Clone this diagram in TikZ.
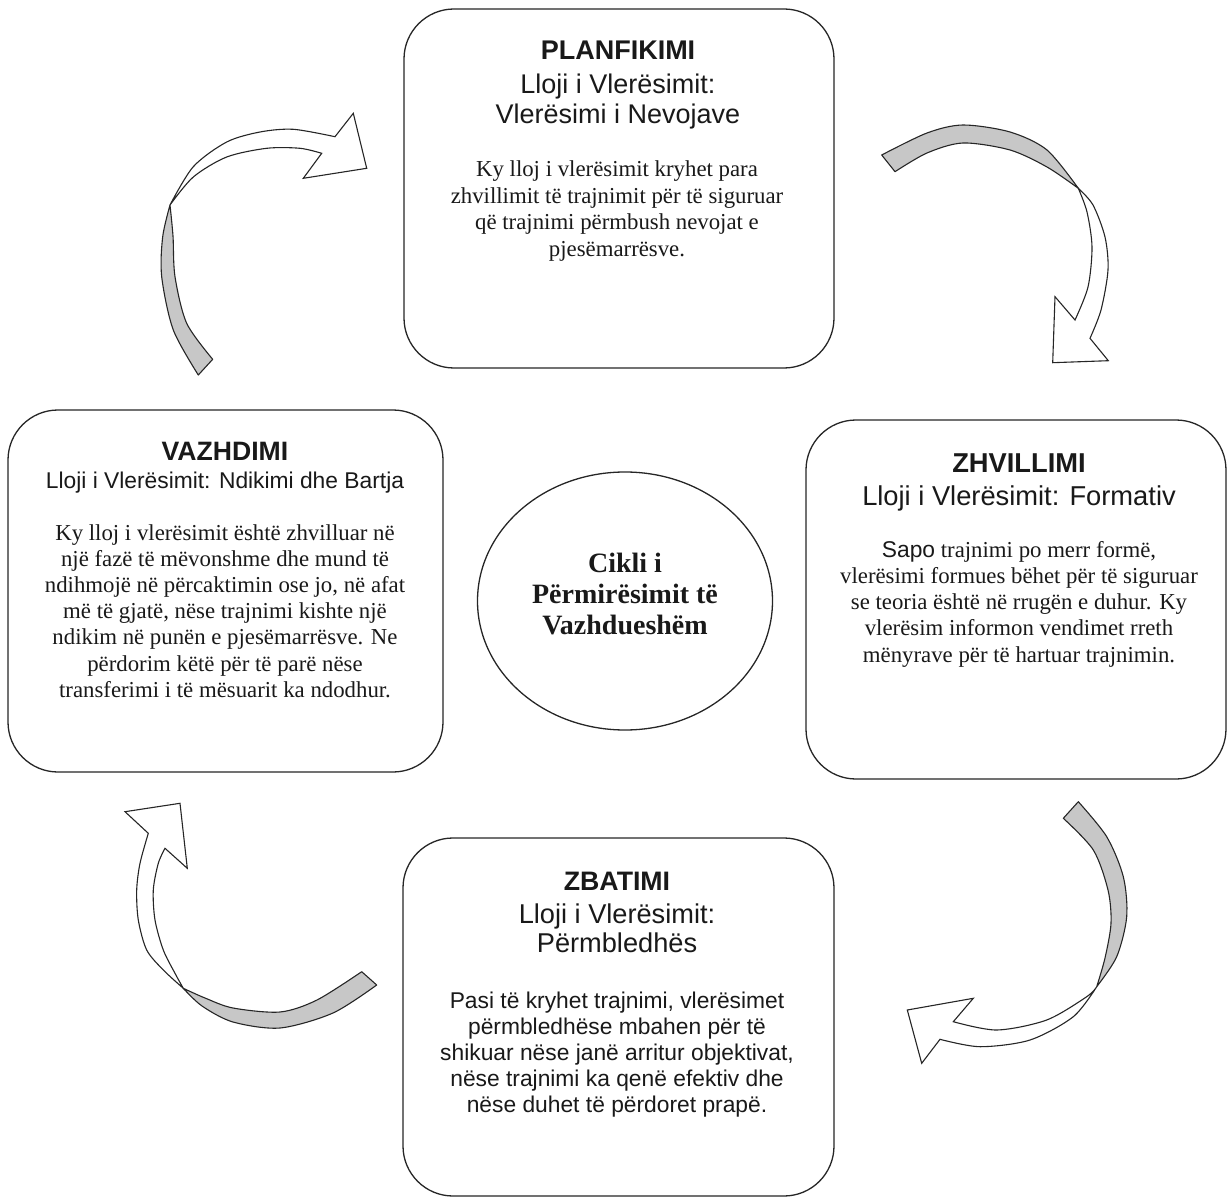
\documentclass[tikz,border=0pt]{standalone}
\usepackage{fontspec}
\setmainfont{Liberation Serif}
\newfontfamily\sansf{Liberation Sans}
\usetikzlibrary{shapes.geometric}
\newcommand\Lines[4]{#1\fontsize{#2}{#3}\selectfont\renewcommand\arraystretch{1}\begin{tabular}[t]{@{}c@{}}#4\end{tabular}}
\tikzset{
  stagebox/.style={draw=black!85, line width=1.3pt, rounded corners=50pt, fill=white, inner sep=0pt},
  txt/.style={anchor=base, inner sep=0pt, text=black!90},
  back/.style={fill=black!22, draw=black!85, line width=1.1pt, line join=round},
  front/.style={fill=white, draw=black!85, line width=1.1pt, line join=miter},
}
\begin{document}
\begin{tikzpicture}[x=1pt,y=-1pt]
\useasboundingbox (0,0) rectangle (1227,1198);

% ---------- boxes ----------
\node[stagebox, minimum width=430pt, minimum height=359pt] (plan) at (619,188.5) {};
\node[stagebox, minimum width=435pt, minimum height=362pt] (vazh) at (225.5,591) {};
\node[stagebox, minimum width=420pt, minimum height=359pt] (zhvi) at (1016,599.5) {};
\node[stagebox, minimum width=431pt, minimum height=358pt] (zbat) at (618.5,1017) {};
\node[draw=black!85, line width=1.3pt, ellipse, minimum width=295pt, minimum height=258pt, inner sep=0pt] (cikli) at (625,601) {};

% ---------- PLANFIKIMI ----------
\node[txt] (planT) at (618,60) {\sansf\bfseries\fontsize{27}{31}\selectfont PLANFIKIMI};
\node[txt] (planS) at (618,94) {\Lines{\sansf}{27}{30}{Lloji i Vlerësimit:\\ Vlerësimi i Nevojave}};
\node[txt] (planB) at (617,177) {\Lines{}{22.8}{26.5}{Ky lloj i vlerësimit kryhet para\\ zhvillimit të trajnimit për të siguruar\\ që trajnimi përmbush nevojat e\\ pjesëmarrësve.}};

% ---------- VAZHDIMI ----------
\node[txt] (vazhT) at (225,460) {\sansf\bfseries\fontsize{26.6}{31}\selectfont VAZHDIMI};
\node[txt] (vazhS) at (225,488) {\sansf\fontsize{22.8}{26}\selectfont Lloji i Vlerësimit: Ndikimi dhe Bartja};
\node[txt] (vazhB) at (225,540) {\Lines{}{22.8}{26.2}{Ky lloj i vlerësimit është zhvilluar në\\ një fazë të mëvonshme dhe mund të\\ ndihmojë në përcaktimin ose jo, në afat\\ më të gjatë, nëse trajnimi kishte një\\ ndikim në punën e pjesëmarrësve. Ne\\ përdorim këtë për të parë nëse\\ transferimi i të mësuarit ka ndodhur.}};

% ---------- ZHVILLIMI ----------
\node[txt] (zhviT) at (1019,472) {\sansf\bfseries\fontsize{27.3}{31}\selectfont ZHVILLIMI};
\node[txt] (zhviS) at (1019,505) {\sansf\fontsize{27.3}{31}\selectfont Lloji i Vlerësimit: Formativ};
\node[txt] (zhviB) at (1019,557) {\Lines{}{22.8}{26.3}{{\sansf Sapo} trajnimi po merr formë,\\ vlerësimi formues bëhet për të siguruar\\ se teoria është në rrugën e duhur. Ky\\ vlerësim informon vendimet rreth\\ mënyrave për të hartuar trajnimin.}};

% ---------- ZBATIMI ----------
\node[txt] (zbatT) at (617,890) {\sansf\bfseries\fontsize{26.7}{31}\selectfont ZBATIMI};
\node[txt] (zbatS) at (617,923) {\Lines{\sansf}{27.2}{29.5}{Lloji i Vlerësimit:\\ Përmbledhës}};
\node[txt] (zbatB) at (617,1008) {\Lines{\sansf}{22.8}{26}{Pasi të kryhet trajnimi, vlerësimet\\ përmbledhëse mbahen për të\\ shikuar nëse janë arritur objektivat,\\ nëse trajnimi ka qenë efektiv dhe\\ nëse duhet të përdoret prapë.}};

% ---------- centre ----------
\node[txt] (ciklT) at (625,572) {\Lines{\bfseries}{28}{31}{Cikli i\\ Përmirësimit të\\ Vazhdueshëm}};

% ---------- curved arrow 1 (top right) ----------
\filldraw[back] plot[smooth] coordinates {(881.7,155) (927,133) (963,125) (1010,132) (1047,150) (1078.3,188.3)}
  -- plot[smooth] coordinates {(1078.3,188.3) (1047,167) (1010,150) (963,143) (927,153) (895,171.7)} -- cycle;
\filldraw[front] plot[smooth] coordinates {(1078.3,188.3) (1093,205) (1105,237) (1108,270) (1101,310) (1090,338.3)}
  -- (1108.3,360.7) -- (1052.7,362.7) -- (1055,296.7)
  -- plot[smooth] coordinates {(1075,320) (1088,287) (1092,247) (1087,212) (1078.3,188.3)} -- cycle;

% ---------- curved arrow 2 (top left) ----------
\filldraw[back] plot[smooth] coordinates {(198.3,375) (173.3,330) (161.7,276.7) (162.7,236.7) (170,205)}
  -- plot[smooth] coordinates {(170,205) (173,236) (175,276.7) (186.7,323.3) (212.7,359.3)} -- cycle;
\filldraw[front] plot[smooth] coordinates {(170,205) (193.3,166.7) (226.7,142) (260,132) (293.3,129.3) (335,136.7)}
  -- (353.3,113.3) -- (366.7,168.3) -- (303.3,178.3)
  -- plot[smooth] coordinates {(321.7,153.3) (300,148.3) (266.7,148.3) (226.7,157) (193.3,177) (170,205)} -- cycle;

% ---------- curved arrow 3 (bottom left) ----------
\filldraw[back] plot[smooth] coordinates {(376.7,985) (333,1013) (280,1028) (233,1022) (202,1006) (183.3,988.3)}
  -- plot[smooth] coordinates {(183.3,988.3) (205,998) (233,1008) (280,1012) (317,1000) (361.7,971.7)} -- cycle;
\filldraw[front] plot[smooth] coordinates {(183.3,988.3) (163.3,970) (146.7,950) (138.3,920) (136.7,890) (140,863.3) (148.3,833.3)}
  -- (125,811.7) -- (180,803.3) -- (187.3,868.3)
  -- plot[smooth] coordinates {(165,848.3) (158.3,863.3) (153.3,890) (155,920) (163.3,950) (175,973.3) (183.3,988.3)} -- cycle;

% ---------- curved arrow 4 (bottom right) ----------
\filldraw[back] plot[smooth] coordinates {(1078.3,801.7) (1106.7,836.7) (1123.3,876.7) (1126.7,916.7) (1116.7,956.7) (1096.7,986.7)}
  -- plot[smooth] coordinates {(1096.7,986.7) (1105,958) (1111,923.3) (1108,890) (1093.3,850) (1063.3,818.3)} -- cycle;
\filldraw[front] plot[smooth] coordinates {(1096.7,986.7) (1073.3,1016.7) (1030,1040) (980,1046.7) (940,1039.3)}
  -- (921.7,1063.3) -- (907.3,1010) -- (973.3,998.3)
  -- plot[smooth] coordinates {(953.3,1021.7) (996.7,1030) (1046.7,1020) (1086.7,996.7) (1096.7,986.7)} -- cycle;
\end{tikzpicture}
\end{document}
